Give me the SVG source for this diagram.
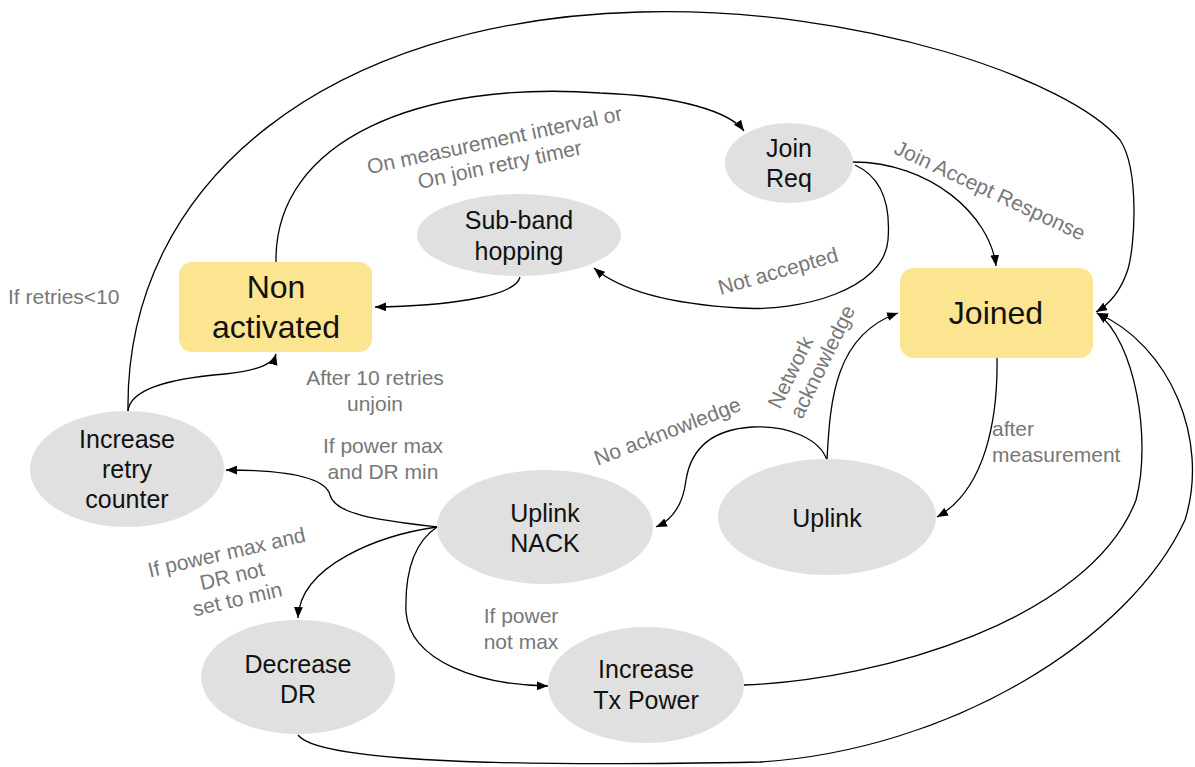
<svg xmlns="http://www.w3.org/2000/svg" width="1195" height="767" viewBox="0 0 1195 767">
<style>
.st{fill:#fce591}
.el{fill:#e0e0e0}
.nt{font-family:"Liberation Sans",Arial,sans-serif;font-size:25px;fill:#111;text-anchor:middle}
.big{font-size:32px}
.lb{font-family:"Liberation Sans",Arial,sans-serif;font-size:21px;fill:#777;text-anchor:middle}
.ls{text-anchor:start}
.cn{fill:none;stroke:#000;stroke-width:1.3;marker-end:url(#ah)}
</style>
<defs>
<marker id="ah" viewBox="0 0 10 8" refX="10" refY="4" markerWidth="11" markerHeight="9" markerUnits="userSpaceOnUse" orient="auto">
<path d="M0,0 L10,4 L0,8 z" fill="#000"/>
</marker>
</defs>
<rect width="1195" height="767" fill="#fff"/>
<g id="connectors">
<path class="cn" d="M276,262 C 274,140 420,80 600,93 C 680,96 730,112 744,131"/>
<path class="cn" d="M853,162 C 930,162 990,215 996,266"/>
<path class="cn" d="M855,165 C 888,180 890,215 888,240 C 884,290 800,312 740,308 C 670,304 620,290 594,268"/>
<path class="cn" d="M520,277 C 515,298 440,306 375,307"/>
<path class="cn" d="M128,411 C 130,388 175,378 225,374 C 255,371 273,365 276,354"/>
<path class="cn" d="M128,411 C 125,180 330,20 640,12 C 860,6 1070,80 1120,140 C 1140,170 1135,250 1127,272 C 1120,292 1108,305 1096,312"/>
<path class="cn" d="M437,527 C 380,520 335,515 330,495 C 325,475 275,470 226,470"/>
<path class="cn" d="M437,527 C 380,535 300,565 298,618"/>
<path class="cn" d="M437,527 C 410,545 405,580 406,612 C 410,662 480,685 548,686"/>
<path class="cn" d="M827,460 C 820,440 790,425 752,427 C 705,430 690,455 686,480 C 683,505 672,520 656,527"/>
<path class="cn" d="M827,460 C 830,400 835,335 898,313"/>
<path class="cn" d="M997,358 C 998,420 985,490 937,517"/>
<path class="cn" d="M744,685 C 880,680 1090,620 1136,500 C 1152,440 1135,340 1097,313"/>
<path class="cn" d="M298,735 C 320,765 560,766 760,762 C 950,750 1130,640 1185,520 C 1210,440 1170,345 1097,313"/>
</g>
<g id="labels">
<g transform="translate(497,152) rotate(-12)"><text class="lb" x="0" y="-5">On measurement interval or</text><text class="lb" x="0" y="20">On join retry timer</text></g>
<g transform="translate(987,197) rotate(25)"><text class="lb" x="0" y="0">Join Accept Response</text></g>
<g transform="translate(780,278) rotate(-16)"><text class="lb" x="0" y="0">Not accepted</text></g>
<text class="lb ls" x="8" y="304">If retries&lt;10</text>
<text class="lb" x="375" y="385">After 10 retries</text>
<text class="lb" x="375" y="411">unjoin</text>
<text class="lb" x="383" y="453">If power max</text>
<text class="lb" x="383" y="479">and DR min</text>
<g transform="translate(232,576) rotate(-13)"><text class="lb" x="0" y="-17">If power max and</text><text class="lb" x="0" y="7">DR not</text><text class="lb" x="0" y="31">set to min</text></g>
<text class="lb" x="521" y="623">If power</text>
<text class="lb" x="521" y="649">not max</text>
<g transform="translate(670,438) rotate(-21)"><text class="lb" x="0" y="0">No acknowledge</text></g>
<g transform="translate(780,410) rotate(-64)"><text class="lb ls" x="0" y="0">Network</text></g>
<g transform="translate(802,420) rotate(-64)"><text class="lb ls" x="0" y="0">acknowledge</text></g>
<text class="lb ls" x="992" y="436">after</text>
<text class="lb ls" x="992" y="462">measurement</text>
</g>
<g id="join-req"><ellipse class="el" cx="789" cy="163" rx="64" ry="40"/><text class="nt" x="789" y="157">Join</text><text class="nt" x="789" y="187">Req</text></g>
<g id="sub-band"><ellipse class="el" cx="519" cy="235" rx="102" ry="41"/><text class="nt" x="519" y="229">Sub-band</text><text class="nt" x="519" y="260">hopping</text></g>
<g id="non-activated"><rect class="st" x="179" y="262" width="193" height="90" rx="13"/><text class="nt big" x="276" y="298">Non</text><text class="nt big" x="276" y="338">activated</text></g>
<g id="joined"><rect class="st" x="900" y="268" width="193" height="90" rx="14"/><text class="nt big" x="996" y="324">Joined</text></g>
<g id="retry"><ellipse class="el" cx="127" cy="469" rx="97" ry="58"/><text class="nt" x="127" y="448">Increase</text><text class="nt" x="127" y="478">retry</text><text class="nt" x="127" y="508">counter</text></g>
<g id="uplink-nack"><ellipse class="el" cx="545" cy="527" rx="108" ry="57"/><text class="nt" x="545" y="522">Uplink</text><text class="nt" x="545" y="552">NACK</text></g>
<g id="uplink"><ellipse class="el" cx="827" cy="517" rx="109" ry="58"/><text class="nt" x="827" y="527">Uplink</text></g>
<g id="decrease-dr"><ellipse class="el" cx="298" cy="677" rx="97" ry="57"/><text class="nt" x="298" y="673">Decrease</text><text class="nt" x="298" y="703">DR</text></g>
<g id="increase-tx"><ellipse class="el" cx="646" cy="685" rx="98" ry="58"/><text class="nt" x="646" y="678">Increase</text><text class="nt" x="646" y="709">Tx Power</text></g>
</svg>
